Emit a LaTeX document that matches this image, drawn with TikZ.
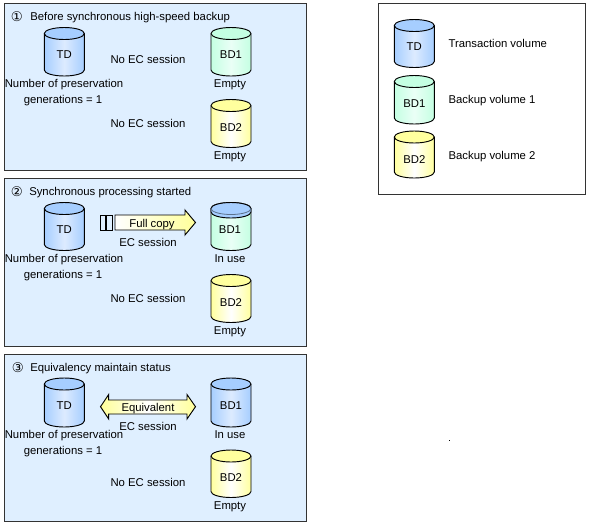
\documentclass[tikz,border=0pt]{standalone}
\usepackage{fontspec}
\setmainfont{Liberation Sans}
\newfontfamily\symfont{DejaVu Sans}
\definecolor{panelblue}{HTML}{DFEFFF}
\definecolor{framegray}{HTML}{333333}
\definecolor{tdedge}{HTML}{A6CEFF}
\definecolor{tdmid}{HTML}{DDEBFF}
\definecolor{bdaedge}{HTML}{C4FFE2}
\definecolor{bdamid}{HTML}{EAFFF6}
\definecolor{bdbedge}{HTML}{FFFF9E}
\definecolor{bdbmid}{HTML}{FFFFFF}
\definecolor{arrowy}{HTML}{FFFF99}
\tikzset{
  panel/.style={draw=framegray,line width=0.75pt,fill=panelblue},
  legendbox/.style={draw=framegray,line width=0.75pt,fill=white},
  lbl/.style={inner sep=0pt,font=\fontsize{8.5}{10}\selectfont,text=black,text height=6pt,text depth=0pt},
  llbl/.style={lbl,anchor=west},
  blockarrow/.style={draw=black,line width=0.7pt,line join=miter},
}
% name, centre x, top y, bottom y, label, edge colour, mid colour, label dy
% (y axis points down, so angles 180->360 run over the top on screen)
\newcommand{\volume}[8]{%
  \path[left color=#6,right color=#6,middle color=#7]
    (#2-20,#3+6) arc[x radius=20,y radius=6,start angle=180,end angle=360]
    -- (#2+20,#4-6) arc[x radius=20,y radius=6,start angle=0,end angle=180] -- cycle;
  \fill[#6] (#2,#3+6) ellipse[x radius=20,y radius=6];
  \draw[black,line width=0.7pt]
    (#2-20,#3+6) arc[x radius=20,y radius=6,start angle=180,end angle=360]
    -- (#2+20,#4-6) arc[x radius=20,y radius=6,start angle=0,end angle=180] -- cycle;
  \draw[black,line width=0.7pt] (#2-20,#3+6) arc[x radius=20,y radius=6,start angle=180,end angle=0];
  \node[lbl] (#1) at (#2,#3+#8) {#5};
}
\begin{document}
\begin{tikzpicture}[x=0.75pt,y=-0.75pt]
\useasboundingbox (0,0) rectangle (590,526);
\fill[white] (0,0) rectangle (590,526);
% panels
\draw[panel] (4.5,3.5) rectangle (306.5,170.5);
\draw[panel] (4.5,178.5) rectangle (306.5,346.5);
\draw[panel] (4.5,354.5) rectangle (306.5,521.5);
\draw[legendbox] (378.5,3.5) rectangle (585.5,194.5);
% panel 1
\node[llbl] (c1) at (10.5,17) {\symfont\fontsize{10}{11}\selectfont ①};
\node[llbl] (t1) at (30,16) {Before synchronous high-speed backup};
\volume{td1}{64.3}{27.5}{76}{TD}{tdedge}{tdmid}{27}
\volume{bda1}{231}{27.5}{76}{BD1}{bdaedge}{bdamid}{27}
\volume{bdb1}{231}{99.5}{147.5}{BD2}{bdbedge}{bdbmid}{27.5}
\node[lbl] (n1) at (64,83) {Number of preservation};
\node[lbl] (g1) at (63,99) {generations = 1};
\node[lbl] (s1a) at (148,59) {No EC session};
\node[lbl] (s1b) at (148,123) {No EC session};
\node[lbl] (e1a) at (230,83) {Empty};
\node[lbl] (e1b) at (230,155) {Empty};
% panel 2
\node[llbl] (c2) at (10.5,192) {\symfont\fontsize{10}{11}\selectfont ②};
\node[llbl] (t2) at (29,191) {Synchronous processing started};
\volume{td2}{64.3}{202.5}{250.5}{TD}{tdedge}{tdmid}{27}
\volume{bda2}{231}{202.5}{250.5}{}{bdaedge}{bdamid}{27}
\fill[tdedge] (211,208.5) arc[x radius=20,y radius=6,start angle=180,end angle=360]
  -- (251,212) arc[x radius=20,y radius=6,start angle=0,end angle=180] -- cycle;
\draw[black,line width=0.7pt] (211,208.5) arc[x radius=20,y radius=6,start angle=180,end angle=360]
  -- (251,212) arc[x radius=20,y radius=6,start angle=0,end angle=180] -- cycle;
\draw[tdedge!55!black,line width=0.6pt] (211,208.5) arc[x radius=20,y radius=6,start angle=180,end angle=0];
\node[lbl] (bda2t) at (230,229.5) {BD1};
\volume{bdb2}{231}{274.5}{322.5}{BD2}{bdbedge}{bdbmid}{27.5}
\node[lbl] (n2) at (64,258) {Number of preservation};
\node[lbl] (g2) at (63,274) {generations = 1};
\draw[blockarrow,fill=panelblue] (100.5,215) rectangle (105,230);
\draw[blockarrow,fill=panelblue] (106.5,215) rectangle (112.5,230);
\draw[blockarrow,left color=white,right color=arrowy]
  (115,215) -- (185,215) -- (185,210) -- (195.5,222.5) -- (185,235) -- (185,230) -- (115,230) -- cycle;
\node[lbl] (fc) at (152,223) {Full copy};
\node[lbl] (s2a) at (148,242) {EC session};
\node[lbl] (s2b) at (148,298) {No EC session};
\node[lbl] (u2) at (230,258) {In use};
\node[lbl] (e2) at (230,330) {Empty};
% panel 3
\node[llbl] (c3) at (11.5,368) {\symfont\fontsize{10}{11}\selectfont ③};
\node[llbl] (t3) at (30,367) {Equivalency maintain status};
\volume{td3}{64.3}{378}{427}{TD}{tdedge}{tdmid}{27}
\volume{bda3}{231}{378}{427}{BD1}{tdedge}{tdmid}{27}
\volume{bdb3}{231}{450}{497.5}{BD2}{bdbedge}{bdbmid}{27}
\node[lbl] (n3) at (64,434) {Number of preservation};
\node[lbl] (g3) at (63,450) {generations = 1};
\draw[blockarrow,left color=arrowy,right color=arrowy,middle color=white]
  (100.5,406.7) -- (108.7,394.5) -- (108.7,400) -- (187,400) -- (187,394.5) -- (195.5,406.7)
  -- (187,419) -- (187,414) -- (108.7,414) -- (108.7,419) -- cycle;
\node[lbl] (eq) at (148,407) {Equivalent};
\node[lbl] (s3a) at (148,426) {EC session};
\node[lbl] (s3b) at (148,482) {No EC session};
\node[lbl] (u3) at (230,434) {In use};
\node[lbl] (e3) at (230,505) {Empty};
% legend
\volume{ltd}{414.3}{19.5}{67.5}{TD}{tdedge}{tdmid}{27}
\volume{lbda}{414.3}{75.5}{124}{BD1}{bdaedge}{bdamid}{27.5}
\volume{lbdb}{414.3}{131}{178}{BD2}{bdbedge}{bdbmid}{28}
\node[llbl] (lt) at (448.3,43) {Transaction volume};
\node[llbl] (la) at (448.3,99) {Backup volume 1};
\node[llbl] (lb) at (448.3,155) {Backup volume 2};
% stray dot
\fill[black] (449,440) rectangle (450,441);
\end{tikzpicture}
\end{document}
